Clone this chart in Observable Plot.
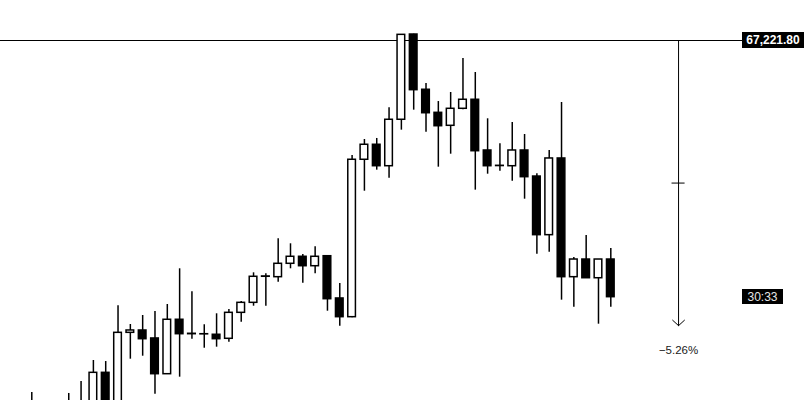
<!DOCTYPE html>
<html>
<head>
<meta charset="utf-8">
<script src="https://cdn.jsdelivr.net/npm/d3@7"></script>
<script src="https://cdn.jsdelivr.net/npm/@observablehq/plot@0.6"></script>
<style>
  html, body { margin: 0; padding: 0; background: #fff; }
  #chart svg { display: block; }
</style>
</head>
<body>
<div id="chart"></div>
<script>
// Bar index (0 = first bar of the visible window)
const bar = d3.range(48);
const open = [62720, 62640, 62560, 62650, 62700, 62740, 63101, 62720, 63597, 63626,
  63527, 63084, 63759, 63580, 63580, 63573, 63523, 63845, 63969, 64292,
  64287, 64453, 64540, 64423, 64547, 64023, 63791, 65743, 65929, 65663,
  66239, 67296, 66611, 66325, 66164, 66375, 66487, 65858, 65668, 65663,
  65858, 65535, 64808, 65759, 64287, 64506, 64274, 64506];
const high = [62857, 62740, 62720, 62845, 62993, 63254, 63241, 63932, 63700, 63812,
  63861, 63948, 64391, 64106, 63697, 63833, 63886, 63985, 64341, 64329,
  64763, 64701, 64568, 64664, 64556, 64209, 65796, 65994, 66007, 66387,
  67293, 67300, 66689, 66465, 66577, 66999, 66825, 66251, 65941, 66205,
  66056, 65569, 65858, 66453, 64531, 64804, 64506, 64643];
const low = [62520, 62480, 62450, 62560, 62600, 62650, 62640, 62650, 63270, 63307,
  62836, 63080, 63047, 63518, 63406, 63419, 63481, 63729, 63927, 63927,
  64225, 64391, 64212, 64329, 63865, 63679, 63785, 65353, 65614, 65514,
  66110, 66358, 66085, 65651, 65812, 66363, 65366, 65564, 65601, 65477,
  65254, 64572, 64597, 64002, 63915, 64274, 63704, 63915];
const close = [62640, 62560, 62650, 62700, 62740, 63101, 62720, 63597, 63626, 63518,
  63084, 63759, 63580, 63585, 63578, 63518, 63845, 63969, 64292, 64296,
  64453, 64540, 64423, 64540, 64014, 63791, 65743, 65929, 65663, 66239,
  67292, 66606, 66320, 66159, 66375, 66487, 65849, 65663, 65665, 65858,
  65527, 64808, 65759, 64287, 64506, 64274, 64506, 64039];

// Annotations
const levelPrice = 67221.80;
const levelLabel = "67,221.80";
const countdown = "30:33";
const measureBar = 52.5;
const measurePct = -5.26;

const candles = bar.map((i) => ({i, open: open[i], high: high[i], low: low[i], close: close[i]}));
const measure = [{x: measureBar, from: levelPrice, to: levelPrice * (1 + measurePct / 100)}];
measure[0].mid = (measure[0].from + measure[0].to) / 2;

const fmtPct = (p) => (p < 0 ? "\u2212" : "") + Math.abs(p).toFixed(2) + "%";

function priceTag(price, text, w, h, opts = {}) {
  return (index, scales, values, dimensions) => {
    const y = scales.y(price);
    const x0 = dimensions.width - dimensions.marginRight;
    const g = d3.create("svg:g");
    g.append("rect")
      .attr("x", x0).attr("y", Math.round(y - h / 2))
      .attr("width", w).attr("height", h)
      .attr("fill", "#000");
    g.append("text")
      .attr("x", x0 + w / 2).attr("y", Math.round(y - h / 2) + h / 2)
      .attr("dy", "0.36em")
      .attr("text-anchor", "middle")
      .attr("fill", opts.fill || "#fff")
      .attr("font-size", opts.fontSize || 12)
      .attr("font-weight", opts.fontWeight || "normal")
      .attr("font-family", "Liberation Sans, Arial, sans-serif")
      .text(text);
    return g.node();
  };
}

const chart = Plot.plot({
  width: 811,
  height: 400,
  marginTop: 0,
  marginBottom: 0,
  marginLeft: 0,
  marginRight: 69,
  style: {background: "#fff", fontFamily: "Liberation Sans, Arial, sans-serif", overflow: "hidden"},
  x: {domain: [-2.54, 57.69], axis: null},
  y: {domain: [62757.8, 67717.8], axis: null},
  marks: [
    Plot.ruleY([levelPrice], {stroke: "#000", strokeWidth: 1}),
    Plot.ruleX(candles, {x: "i", y1: "low", y2: "high", stroke: "#000", strokeWidth: 1.5, clip: true}),
    Plot.rect(candles, {
      x1: (d) => d.i - 0.31,
      x2: (d) => d.i + 0.31,
      y1: "open",
      y2: "close",
      fill: (d) => (d.close >= d.open ? "#fff" : "#000"),
      stroke: "#000",
      strokeWidth: 1.5,
      clip: true
    }),
    Plot.arrow(measure, {
      x1: "x", x2: "x", y1: "from", y2: "to",
      stroke: "#000", strokeWidth: 1, headAngle: 95, headLength: 12
    }),
    Plot.ruleY(measure, {y: "mid", x1: (d) => d.x - 0.53, x2: (d) => d.x + 0.53, stroke: "#000", strokeWidth: 1}),
    Plot.text(measure, {
      x: "x", y: "to", dy: 25,
      text: () => fmtPct(measurePct),
      fontSize: 11.5, fill: "#1a1a1a"
    }),
    priceTag(levelPrice, levelLabel, 62, 16, {fontWeight: "bold", fontSize: 12}),
    priceTag(close[close.length - 1], countdown, 41, 15, {fill: "#e6e6e6", fontSize: 12})
  ]
});

document.getElementById("chart").appendChild(chart);
</script>
</body>
</html>
